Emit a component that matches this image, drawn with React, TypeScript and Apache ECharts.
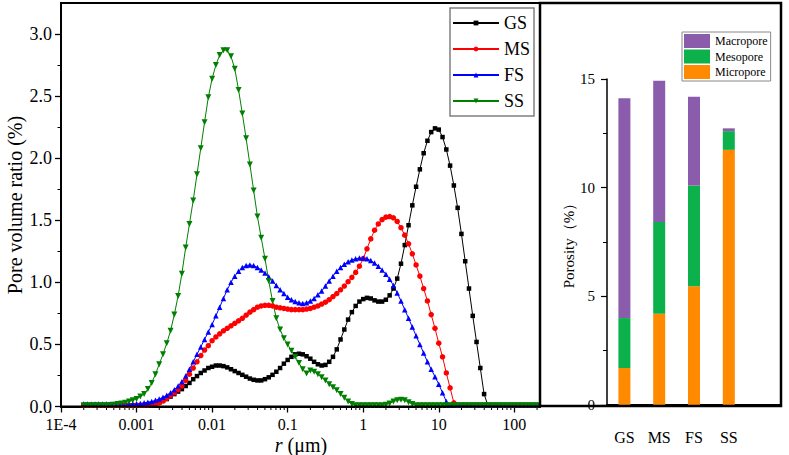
import React, { useEffect, useRef } from "react";
import * as echarts from "echarts";

// log10 of pore radius r (µm)
const LOG_R = [
  -3.7, -3.65, -3.6, -3.55, -3.5, -3.45, -3.4, -3.35, -3.3, -3.25,
  -3.2, -3.15, -3.1, -3.05, -3.0, -2.95, -2.9, -2.85, -2.8, -2.75,
  -2.7, -2.65, -2.6, -2.55, -2.5, -2.45, -2.4, -2.35, -2.3, -2.25,
  -2.2, -2.15, -2.1, -2.05, -2.0, -1.95, -1.9, -1.85, -1.8, -1.75,
  -1.7, -1.65, -1.6, -1.55, -1.5, -1.45, -1.4, -1.35, -1.3, -1.25,
  -1.2, -1.15, -1.1, -1.05, -1.0, -0.95, -0.9, -0.85, -0.8, -0.75,
  -0.7, -0.65, -0.6, -0.55, -0.5, -0.45, -0.4, -0.35, -0.3, -0.25,
  -0.2, -0.15, -0.1, -0.05, 0.0, 0.05, 0.1, 0.15, 0.2, 0.25,
  0.3, 0.35, 0.4, 0.45, 0.5, 0.55, 0.6, 0.65, 0.7, 0.75,
  0.8, 0.85, 0.9, 0.95, 1.0, 1.05, 1.1, 1.15, 1.2, 1.25,
  1.3, 1.35, 1.4, 1.45, 1.5, 1.55, 1.6, 1.65, 1.7, 1.75,
  1.8, 1.85, 1.9, 1.95, 2.0, 2.05, 2.1, 2.15, 2.2, 2.25,
  2.3,
];

const GS = [
  0.01, 0.01, 0.01, 0.01, 0.01, 0.01, 0.01, 0.01, 0.01, 0.01,
  0.01, 0.01, 0.01, 0.01, 0.01, 0.01, 0.01, 0.015, 0.02, 0.025,
  0.03, 0.045, 0.06, 0.08, 0.1, 0.12, 0.14, 0.165, 0.19, 0.22,
  0.245, 0.27, 0.29, 0.31, 0.32, 0.33, 0.33, 0.325, 0.315, 0.3,
  0.285, 0.27, 0.255, 0.24, 0.225, 0.215, 0.21, 0.21, 0.22, 0.235,
  0.255, 0.28, 0.31, 0.345, 0.375, 0.4, 0.42, 0.425, 0.42, 0.405,
  0.385, 0.36, 0.34, 0.33, 0.335, 0.36, 0.4, 0.46, 0.54, 0.62,
  0.7, 0.76, 0.81, 0.845, 0.865, 0.875, 0.87, 0.855, 0.845, 0.845,
  0.86, 0.895, 0.95, 1.03, 1.15, 1.3, 1.46, 1.62, 1.77, 1.91,
  2.04, 2.14, 2.21, 2.24, 2.23, 2.17, 2.07, 1.94, 1.78, 1.6,
  1.39, 1.17, 0.95, 0.73, 0.52, 0.31, 0.1, 0.01, 0.01, 0.01,
  0.01, 0.01, 0.01, 0.01, 0.01, 0.01, 0.01, 0.01, 0.01, 0.01,
  0.01,
];

const MS = [
  0.01, 0.01, 0.01, 0.01, 0.01, 0.01, 0.01, 0.01, 0.01, 0.01,
  0.01, 0.01, 0.01, 0.01, 0.01, 0.01, 0.01, 0.012, 0.015, 0.02,
  0.03, 0.045, 0.065, 0.09, 0.11, 0.135, 0.165, 0.21, 0.26, 0.31,
  0.36, 0.41, 0.455, 0.49, 0.53, 0.56, 0.585, 0.61, 0.63, 0.65,
  0.67, 0.69, 0.71, 0.735, 0.76, 0.78, 0.8, 0.81, 0.815, 0.815,
  0.81, 0.8, 0.795, 0.79, 0.785, 0.78, 0.78, 0.78, 0.78, 0.785,
  0.79, 0.8, 0.81, 0.825, 0.84, 0.86, 0.885, 0.91, 0.94, 0.97,
  1.005, 1.04, 1.08, 1.13, 1.19, 1.27, 1.35, 1.42, 1.47, 1.505,
  1.525, 1.53, 1.52, 1.49, 1.44, 1.38, 1.31, 1.23, 1.14, 1.05,
  0.95, 0.85, 0.74, 0.63, 0.51, 0.4, 0.27, 0.15, 0.03, 0.01,
  0.01, 0.01, 0.01, 0.01, 0.01, 0.01, 0.01, 0.01, 0.01, 0.01,
  0.01, 0.01, 0.01, 0.01, 0.01, 0.01, 0.01, 0.01, 0.01, 0.01,
  0.01,
];

const FS = [
  0.02, 0.02, 0.02, 0.02, 0.02, 0.02, 0.02, 0.02, 0.02, 0.02,
  0.02, 0.02, 0.02, 0.02, 0.022, 0.025, 0.03, 0.035, 0.04, 0.05,
  0.06, 0.075, 0.09, 0.11, 0.135, 0.165, 0.2, 0.245, 0.3, 0.36,
  0.42, 0.48, 0.54, 0.6, 0.66, 0.73, 0.8, 0.87, 0.94, 1.0,
  1.05, 1.09, 1.12, 1.135, 1.14, 1.135, 1.12, 1.1, 1.075, 1.045,
  1.01, 0.975, 0.94, 0.91, 0.88, 0.86, 0.845, 0.835, 0.83, 0.835,
  0.85, 0.87, 0.9, 0.93, 0.97, 1.01, 1.05, 1.09, 1.12, 1.145,
  1.165, 1.18, 1.19, 1.195, 1.195, 1.19, 1.175, 1.155, 1.13, 1.1,
  1.065, 1.025, 0.975, 0.915, 0.85, 0.78, 0.71, 0.64, 0.57, 0.5,
  0.43, 0.36, 0.3, 0.24, 0.18, 0.11, 0.04, 0.015, 0.015, 0.015,
  0.015, 0.015, 0.015, 0.015, 0.015, 0.015, 0.015, 0.015, 0.015, 0.015,
  0.015, 0.015, 0.015, 0.015, 0.015, 0.015, 0.015, 0.015, 0.015, 0.015,
  0.015,
];

const SS = [
  0.01, 0.01, 0.01, 0.01, 0.01, 0.01, 0.01, 0.012, 0.015, 0.02,
  0.025, 0.03, 0.04, 0.05, 0.06, 0.08, 0.1, 0.14, 0.19, 0.26,
  0.34, 0.42, 0.51, 0.61, 0.74, 0.89, 1.07, 1.28, 1.47, 1.66,
  1.87, 2.08, 2.29, 2.49, 2.64, 2.75, 2.83, 2.87, 2.87, 2.82,
  2.72, 2.55, 2.36, 2.16, 1.95, 1.74, 1.53, 1.36, 1.19, 1.01,
  0.85, 0.71, 0.62, 0.55, 0.5, 0.45, 0.4, 0.35, 0.3, 0.265,
  0.29, 0.28, 0.26, 0.235, 0.21, 0.18, 0.155, 0.13, 0.1, 0.07,
  0.04, 0.02, 0.01, 0.01, 0.01, 0.01, 0.01, 0.01, 0.01, 0.01,
  0.015, 0.025, 0.04, 0.05, 0.055, 0.05, 0.035, 0.02, 0.01, 0.01,
  0.01, 0.01, 0.01, 0.01, 0.01, 0.01, 0.01, 0.01, 0.01, 0.01,
  0.01, 0.01, 0.01, 0.01, 0.01, 0.01, 0.01, 0.01, 0.01, 0.01,
  0.01, 0.01, 0.01, 0.01, 0.01, 0.01, 0.01, 0.01, 0.01, 0.01,
  0.01,
];

// x tick labels, for decades 10^-4 .. 10^2
const X_TICK_LABELS = ["1E-4", "0.001", "0.01", "0.1", "1", "10", "100"];

// porosity bars
const SAMPLES = ["GS", "MS", "FS", "SS"];
const MICROPORE = [1.7, 4.2, 5.46, 11.74];
const MESOPORE = [2.3, 4.22, 4.64, 0.86];
const MACROPORE = [10.12, 6.5, 4.08, 0.13];

const FONT = "Liberation Serif";

export default function App() {
  const ref = useRef<HTMLDivElement>(null);

  useEffect(() => {
    document.body.style.margin = "0";
    const chart = echarts.init(ref.current!, null, { renderer: "svg" });

    const minorTicks: number[][] = [];
    for (let n = -4; n <= 2; n++) {
      for (let k = 2; k <= 9; k++) {
        const v = n + Math.log10(k);
        if (v < 2.34) minorTicks.push([v]);
      }
    }

    const lineSeries = (
      name: string,
      vals: number[],
      color: string,
      symbol: string,
      size: number,
      rotate = 0
    ) => ({
      type: "line",
      name,
      xAxisIndex: 0,
      yAxisIndex: 0,
      data: LOG_R.map((l, i) => [l, vals[i]]),
      symbol,
      symbolSize: size,
      symbolRotate: rotate,
      showAllSymbol: true,
      lineStyle: { color, width: 1 },
      itemStyle: { color },
      emphasis: { disabled: true },
    });

    const option: any = {
      animation: false,
      textStyle: { fontFamily: FONT, color: "#000" },
      grid: [
        { left: 61, top: 34, right: 249, bottom: 48.5, outerBoundsMode: "none", containLabel: false },
        { left: 607, top: 79, right: 8, bottom: 50, outerBoundsMode: "none", containLabel: false },
      ],
      xAxis: [
        {
          type: "value",
          gridIndex: 0,
          min: -4,
          max: 2.34,
          interval: 1,
          splitLine: { show: false },
          axisLine: { onZero: false, lineStyle: { color: "#000", width: 2 } },
          axisTick: { length: 6, lineStyle: { color: "#000", width: 1.3 } },
          axisLabel: {
            fontSize: 16,
            fontFamily: FONT,
            color: "#000",
            margin: 10,
            showMaxLabel: false,
            formatter: (v: number) => {
              const r = Math.round(v);
              if (Math.abs(v - r) > 1e-6) return "";
              return X_TICK_LABELS[r + 4] ?? "";
            },
          },
        },
        {
          type: "category",
          gridIndex: 1,
          data: [...SAMPLES, ""],
          axisLine: { lineStyle: { color: "#000", width: 2 } },
          axisTick: {
            alignWithLabel: true,
            length: 6,
            interval: (i: number) => i < SAMPLES.length,
            lineStyle: { color: "#000", width: 1.3 },
          },
          axisLabel: { fontSize: 16, fontFamily: FONT, color: "#000", margin: 24, interval: 0 },
        },
      ],
      yAxis: [
        {
          type: "value",
          gridIndex: 0,
          min: 0,
          max: 3,
          interval: 0.5,
          splitLine: { show: false },
          axisLine: { show: true, onZero: false, lineStyle: { color: "#000", width: 2 } },
          axisTick: { show: true, length: 6, lineStyle: { color: "#000", width: 1.3 } },
          minorTick: { show: true, splitNumber: 2, length: 3.5, lineStyle: { color: "#000", width: 1 } },
          axisLabel: {
            fontSize: 18,
            fontFamily: FONT,
            color: "#000",
            margin: 9,
            formatter: (v: number) => v.toFixed(1),
          },
        },
        {
          type: "value",
          gridIndex: 1,
          min: 0,
          max: 15,
          interval: 5,
          splitLine: { show: false },
          axisLine: { show: true, onZero: false, lineStyle: { color: "#000", width: 1.5 } },
          axisTick: { show: true, length: 6, lineStyle: { color: "#000", width: 1.2 } },
          minorTick: { show: true, splitNumber: 2, length: 4, lineStyle: { color: "#000", width: 1 } },
          axisLabel: { fontSize: 15, fontFamily: FONT, color: "#000", margin: 12 },
          name: "Porosity（%）",
          nameLocation: "middle",
          nameGap: 25,
          nameRotate: 90,
          nameTextStyle: { fontSize: 15, fontFamily: FONT, color: "#000" },
        },
      ],
      legend: [
        {
          data: ["GS", "MS", "FS", "SS"],
          orient: "vertical",
          left: 450,
          top: 8,
          itemWidth: 46,
          itemHeight: 6,
          itemGap: 8,
          padding: [6, 4, 6, 2],
          borderColor: "#808080",
          borderWidth: 1.5,
          borderRadius: 0,
          selectedMode: false,
          textStyle: { fontSize: 18, lineHeight: 18, fontFamily: FONT, color: "#000" },
        },
        {
          data: ["Macropore", "Mesopore", "Micropore"],
          orient: "vertical",
          left: 682,
          top: 32,
          icon: "rect",
          itemWidth: 26,
          itemHeight: 14,
          itemGap: 1.5,
          padding: [2, 3, 2, 2],
          borderColor: "#888",
          borderWidth: 1,
          selectedMode: false,
          textStyle: { fontSize: 12, lineHeight: 14, fontFamily: FONT, color: "#000" },
        },
      ],
      graphic: [
        {
          type: "rect",
          shape: { x: 61, y: 3, width: 479, height: 403.5 },
          style: { fill: "none", stroke: "#000", lineWidth: 2 },
          silent: true,
          z: 100,
        },
        {
          type: "rect",
          shape: { x: 540, y: 3, width: 241, height: 403 },
          style: { fill: "none", stroke: "#000", lineWidth: 2.5 },
          silent: true,
          z: 100,
        },
        {
          type: "text",
          x: 15,
          y: 205,
          rotation: Math.PI / 2,
          silent: true,
          style: {
            text: "Pore volume ratio (%)",
            fontSize: 20,
            fontFamily: FONT,
            fill: "#000",
            align: "center",
            verticalAlign: "middle",
          },
        },
        {
          type: "text",
          x: 301,
          y: 445,
          silent: true,
          style: {
            text: "{i|r} (μm)",
            fontSize: 20,
            fontFamily: FONT,
            fill: "#000",
            align: "center",
            verticalAlign: "middle",
            rich: { i: { fontStyle: "italic", fontSize: 20, fontFamily: FONT, fill: "#000" } },
          },
        },
      ],
      series: [
        {
          type: "custom",
          xAxisIndex: 0,
          yAxisIndex: 0,
          clip: false,
          silent: true,
          data: minorTicks,
          renderItem: (_p: any, api: any) => {
            const p = api.coord([api.value(0), 0]);
            return {
              type: "line",
              shape: { x1: p[0], y1: p[1], x2: p[0], y2: p[1] + 3.5 },
              style: { stroke: "#000", lineWidth: 1 },
            };
          },
        },
        lineSeries("GS", GS, "#000000", "rect", 4.5),
        lineSeries("MS", MS, "#FF0000", "circle", 5.5),
        lineSeries("FS", FS, "#0000FF", "triangle", 5.5),
        lineSeries("SS", SS, "#008000", "triangle", 6, 180),
        {
          type: "bar",
          name: "Micropore",
          stack: "porosity",
          xAxisIndex: 1,
          yAxisIndex: 1,
          barWidth: 12,
          data: MICROPORE,
          itemStyle: { color: "#FF8A00" },
        },
        {
          type: "bar",
          name: "Mesopore",
          stack: "porosity",
          xAxisIndex: 1,
          yAxisIndex: 1,
          barWidth: 12,
          data: MESOPORE,
          itemStyle: { color: "#0DB14B" },
        },
        {
          type: "bar",
          name: "Macropore",
          stack: "porosity",
          xAxisIndex: 1,
          yAxisIndex: 1,
          barWidth: 12,
          data: MACROPORE,
          itemStyle: { color: "#8C5CAC" },
        },
      ],
    };

    chart.setOption(option);
    return () => chart.dispose();
  }, []);

  return (
    <div
      ref={ref}
      style={{ position: "fixed", left: 0, top: 0, width: 789, height: 455, background: "#fff" }}
    />
  );
}
